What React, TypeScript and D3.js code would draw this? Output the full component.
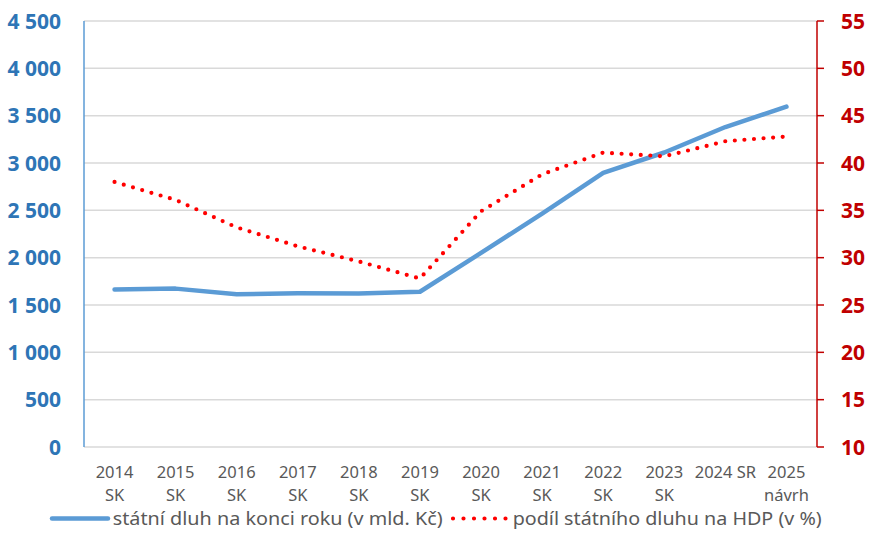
import React from "react";
import * as d3 from "d3";

const categories: string[][] = [
  ["2014", "SK"], ["2015", "SK"], ["2016", "SK"], ["2017", "SK"], ["2018", "SK"],
  ["2019", "SK"], ["2020", "SK"], ["2021", "SK"], ["2022", "SK"], ["2023", "SK"],
  ["2024 SR"], ["2025", "návrh"],
];
const debt: number[] = [1664, 1673, 1613, 1624, 1622, 1640, 2050, 2466, 2895, 3111, 3380, 3595];
const debtShare: number[] = [38.0, 36.1, 33.2, 31.2, 29.6, 27.8, 34.9, 38.8, 41.1, 40.7, 42.3, 42.8];
const leftTicks: number[] = [0, 500, 1000, 1500, 2000, 2500, 3000, 3500, 4000, 4500];
const rightTicks: number[] = [10, 15, 20, 25, 30, 35, 40, 45, 50, 55];
const legendLabels: string[] = [
  "státní dluh na konci roku (v mld. Kč)",
  "podíl státního dluhu na HDP (v %)",
];

const W = 869, H = 552;
const left = 84, right = 817, top = 21, bottom = 447;

const fmt = (v: number) => d3.format(",")(v).replace(/,/g, " ");

export default function App() {
  const x = d3.scaleBand<number>().domain(d3.range(categories.length)).range([left, right]);
  const cx = (i: number) => (x(i) as number) + x.bandwidth() / 2;
  const yL = d3.scaleLinear().domain([0, 4500]).range([bottom, top]);
  const yR = d3.scaleLinear().domain([10, 55]).range([bottom, top]);

  const lineL = d3.line<number>().x((_, i) => cx(i)).y((d) => yL(d));
  const lineR = d3.line<number>().x((_, i) => cx(i)).y((d) => yR(d));

  const font = "'Noto Sans', sans-serif";

  return (
    <div style={{ position: "absolute", left: 0, top: 0 }}>
      <svg width={W} height={H} style={{ display: "block", background: "#fff" }}>
        {leftTicks.map((t) => (
          <line key={"g" + t} x1={left} x2={right} y1={yL(t)} y2={yL(t)} stroke="#D9D9D9" strokeWidth={1.5} />
        ))}
        <line x1={left} x2={left} y1={top} y2={bottom} stroke="#5B9BD5" strokeWidth={1.5} />
        <line x1={right} x2={right} y1={top} y2={bottom} stroke="#C00000" strokeWidth={1.5} />
        {rightTicks.map((t) => (
          <line key={"rt" + t} x1={right} x2={right + 7} y1={yR(t)} y2={yR(t)} stroke="#C00000" strokeWidth={1.5} />
        ))}
        {leftTicks.map((t) => (
          <text key={"lt" + t} x={61} y={yL(t)} dy="0.36em" textAnchor="end" fontFamily={font}
            fontWeight="bold" fontSize={21} fill="#2E75B6">{fmt(t)}</text>
        ))}
        {rightTicks.map((t) => (
          <text key={"rl" + t} x={841} y={yR(t)} dy="0.36em" textAnchor="start" fontFamily={font}
            fontWeight="bold" fontSize={21} fill="#C00000">{t}</text>
        ))}
        {categories.map((c, i) => (
          <text key={"c" + i} textAnchor="middle" fontFamily={font} fontSize={16.5} fill="#595959">
            {c.map((s, j) => (
              <tspan key={j} x={cx(i)} y={472 + j * 23.5} dy="0.36em">{s}</tspan>
            ))}
          </text>
        ))}
        <path d={lineL(debt) || ""} fill="none" stroke="#5B9BD5" strokeWidth={4.5} strokeLinejoin="round" strokeLinecap="round" />
        <path d={lineR(debtShare) || ""} fill="none" stroke="#FF0000" strokeWidth={4.2} strokeDasharray="0 9.6" strokeLinecap="round" strokeLinejoin="round" />
        <line x1={52} x2={108} y1={518.5} y2={518.5} stroke="#5B9BD5" strokeWidth={4.5} strokeLinecap="round" />
        <text x={112.7} y={518.5} dy="0.36em" fontFamily={font} fontSize={18.5} fill="#595959"
          textLength={330} lengthAdjust="spacingAndGlyphs">{legendLabels[0]}</text>
        <line x1={453} x2={506} y1={518.5} y2={518.5} stroke="#FF0000" strokeWidth={4.2} strokeDasharray="0 10.5" strokeLinecap="round" />
        <text x={512.7} y={518.5} dy="0.36em" fontFamily={font} fontSize={18.5} fill="#595959"
          textLength={309} lengthAdjust="spacingAndGlyphs">{legendLabels[1]}</text>
      </svg>
    </div>
  );
}
